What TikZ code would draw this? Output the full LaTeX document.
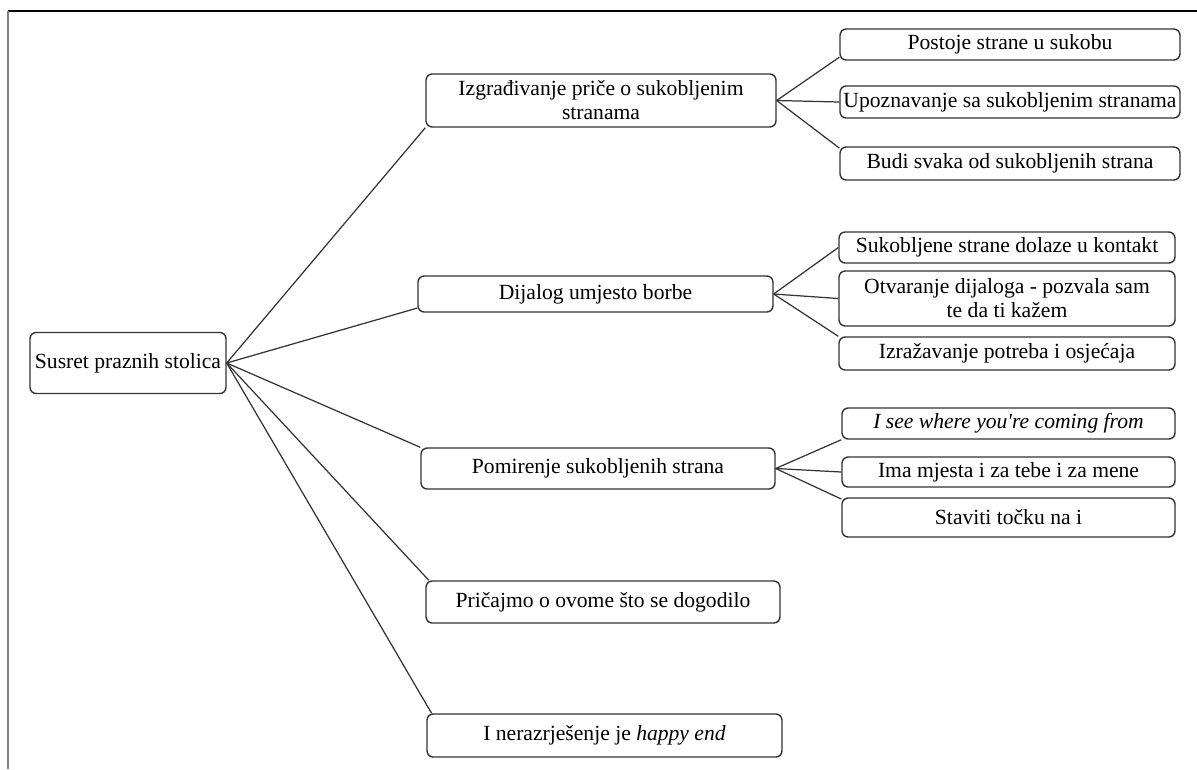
\documentclass[tikz,border=0pt]{standalone}
\usepackage{fontspec}
\setmainfont{Liberation Serif}
\usepackage{tikz}
\usetikzlibrary{positioning}

\tikzset{
  box/.style={draw=black!80, line width=0.8pt, rounded corners=3.5pt, fill=white,
    align=center, inner sep=1pt, font=\fontsize{12.3}{13.6}\selectfont},
  link/.style={draw=black!80, line width=0.7pt}
}

\begin{document}
\begin{tikzpicture}[x=0.02cm, y=-0.02cm]
         \useasboundingbox (0,0) rectangle (1197,769);
         % okvir
         \draw[black, line width=0.9pt] (8,11) -- (1197,11);
         \draw[black!50, line width=0.9pt] (8,11) -- (8,769);

         \node[box, minimum width=3.92cm, minimum height=1.22cm] (root) at (128,363) {Susret praznih stolica};

         % prva razina
         \node[box, minimum width=7cm, minimum height=1.06cm] (price) at (601,100.5) {Izgrađivanje priče o sukobljenim\\stranama};
         \node[box, minimum width=7.1cm, minimum height=0.72cm] (dijalog) at (595.5,294) {Dijalog umjesto borbe};
         \node[box, minimum width=7.08cm, minimum height=0.82cm] (pomirenje) at (598,468.5) {Pomirenje sukobljenih strana};
         \node[box, minimum width=7.08cm, minimum height=0.84cm] (pricajmo) at (603,602) {Pričajmo o ovome što se dogodilo};
         \node[box, minimum width=7.1cm, minimum height=0.86cm] (happy) at (604.5,735.5) {I nerazrješenje je \textit{happy end}};

         % druga razina
         \node[box, minimum width=6.8cm, minimum height=0.62cm] (postoje) at (1010,44.5) {Postoje strane u sukobu};
         \node[box, minimum width=6.8cm, minimum height=0.64cm] (upoznavanje) at (1010,102) {Upoznavanje sa sukobljenim stranama};
         \node[box, minimum width=6.8cm, minimum height=0.66cm] (budi) at (1010,163.5) {Budi svaka od sukobljenih strana};

         \node[box, minimum width=6.72cm, minimum height=0.62cm] (kontakt) at (1007,247.5) {Sukobljene strane dolaze u kontakt};
         \node[box, minimum width=6.72cm, minimum height=1.1cm] (otvaranje) at (1007,298.5) {Otvaranje dijaloga - pozvala sam\\te da ti kažem};
         \node[box, minimum width=6.72cm, minimum height=0.66cm] (izrazavanje) at (1007,353.5) {Izražavanje potreba i osjećaja};

         \node[box, minimum width=6.66cm, minimum height=0.62cm] (isee) at (1008.5,423.5) {\textit{I see where you\textquotesingle re coming from}};
         \node[box, minimum width=6.66cm, minimum height=0.6cm] (mjesta) at (1008.5,472) {Ima mjesta i za tebe i za mene};
         \node[box, minimum width=6.66cm, minimum height=0.78cm] (tocka) at (1008.5,517.5) {Staviti točku na i};

         % veze
         \draw[link] (root.east) -- (price.south west);
         \draw[link] (root.east) -- ([yshift=-8pt]dijalog.west);
         \draw[link] (root.east) -- (pomirenje.north west);
         \draw[link] (root.east) -- ([xshift=2pt]pricajmo.north west);
         \draw[link] (root.east) -- ([xshift=3pt]happy.north west);

         \draw[link] (price.east) -- ([yshift=2pt]postoje.south west);
         \draw[link] (price.east) -- (upoznavanje.west);
         \draw[link] (price.east) -- ([yshift=-1pt]budi.north west);

         \draw[link] (dijalog.east) -- (kontakt.west);
         \draw[link] (dijalog.east) -- (otvaranje.west);
         \draw[link] (dijalog.east) -- (izrazavanje.north west);

         \draw[link] (pomirenje.east) -- (isee.south west);
         \draw[link] (pomirenje.east) -- (mjesta.west);
         \draw[link] (pomirenje.east) -- ([yshift=-1pt]tocka.north west);
    \end{tikzpicture}
\end{document}
